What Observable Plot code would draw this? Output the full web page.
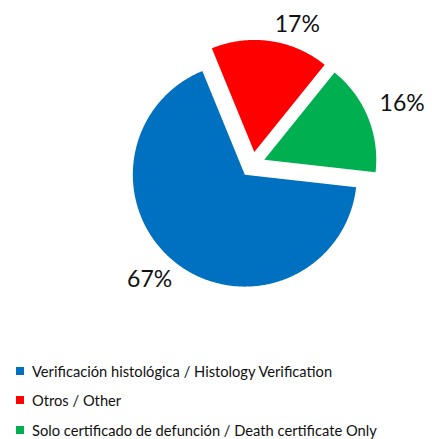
<!DOCTYPE html>
<html>
<head>
<meta charset="utf-8">
<script src="https://cdn.jsdelivr.net/npm/d3@7"></script>
<script src="https://cdn.jsdelivr.net/npm/@observablehq/plot@0.6"></script>
<style>
  html, body { margin: 0; padding: 0; background: #fff; }
  body { width: 432px; height: 439px; overflow: hidden; font-family: Lato, "Open Sans", sans-serif; }
  #legend { position: relative; padding-top: 6px; }
  .item { display: flex; align-items: center; height: 29.5px; line-height: 16px; padding-left: 16px; font-size: 14.7px; color: #111; }
  .swatch { width: 8px; height: 8px; margin-right: 8px; flex: none; }
</style>
</head>
<body>
<div id="chart"></div>
<div id="legend"></div>
<script>
// Cases by basis of diagnosis
const categories = [
  "Verificación histológica / Histology Verification",
  "Otros / Other",
  "Solo certificado de defunción / Death certificate Only"
];
const values = [67, 17, 16];
const colors = ["#0070C0", "#FF0000", "#00B050"];

// Layout
const W = 432, H = 350;
const cx = 252, cy = 164, R = 112, explode = 12.7;
const startDeg = 96.5;
const labelNudgeDeg = [5, 10.4, 0];
const labelDist = [142, 134, 149];

const rad = d => d * Math.PI / 180;
const arcs = d3.pie().sort(null).value(d => d.value)
  .startAngle(rad(startDeg)).endAngle(rad(startDeg) + 2 * Math.PI)(
    values.map((value, i) => ({value, i}))
  );

const polys = [];
const labels = [];
for (const a of arcs) {
  const i = a.data.i;
  const mid = (a.startAngle + a.endAngle) / 2;
  const ox = cx + explode * Math.sin(mid);
  const oy = cy - explode * Math.cos(mid);
  polys.push({k: i, x: ox, y: oy, color: colors[i]});
  const n = Math.max(2, Math.ceil((a.endAngle - a.startAngle) / rad(0.5)));
  for (let j = 0; j <= n; j++) {
    const t = a.startAngle + (a.endAngle - a.startAngle) * j / n;
    polys.push({k: i, x: ox + R * Math.sin(t), y: oy - R * Math.cos(t), color: colors[i]});
  }
  polys.push({k: i, x: ox, y: oy, color: colors[i]});
  const la = mid + rad(labelNudgeDeg[i]);
  labels.push({
    x: ox + labelDist[i] * Math.sin(la),
    y: oy - labelDist[i] * Math.cos(la),
    text: `${values[i]}%`
  });
}

const plot = Plot.plot({
  width: W,
  height: H,
  margin: 0,
  x: {domain: [0, W], range: [0, W], axis: null},
  y: {domain: [0, H], range: [0, H], axis: null},
  color: {type: "identity"},
  marks: [
    Plot.line(polys, {x: "x", y: "y", z: "k", fill: "color", stroke: "none", curve: "linear"}),
    Plot.text(labels, {x: "x", y: "y", text: "text", fontSize: 23, fill: "#111", fontFamily: "Lato, sans-serif"})
  ]
});
plot.style.display = "block";
document.getElementById("chart").appendChild(plot);

const legend = document.getElementById("legend");
categories.forEach((c, i) => {
  const row = document.createElement("div");
  row.className = "item";
  const sw = document.createElement("span");
  sw.className = "swatch";
  sw.style.background = colors[i];
  const tx = document.createElement("span");
  tx.textContent = c;
  row.append(sw, tx);
  legend.appendChild(row);
});
</script>
</body>
</html>
